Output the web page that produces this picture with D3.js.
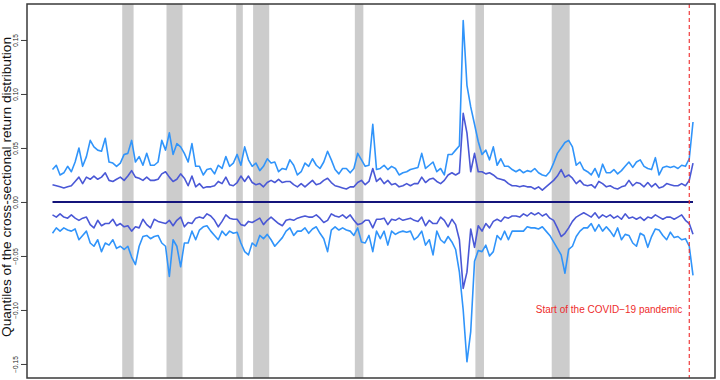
<!DOCTYPE html>
<html><head><meta charset="utf-8">
<script src="https://cdn.jsdelivr.net/npm/d3@7"></script>
<style>body{margin:0;background:#fff} svg{display:block}</style>
</head><body><svg id="c" width="720" height="380"></svg>
<script>
// ---- data (monthly quantiles, sampled every 4 months) ----
const startMonth = "1963-10";
const stepMonths = 4;
const upperOuter = [
0.030,0.034,0.025,0.027,0.033,0.028,0.037,0.050,0.033,0.042,0.057,0.051,0.048,0.047,0.059,0.037,0.036,0.033,0.036,0.044,0.045,0.057,0.037,0.042,0.034,0.045,0.034,0.034,0.037,
0.057,0.048,0.064,0.044,0.054,0.051,0.045,0.037,0.054,0.033,0.033,0.025,0.030,0.031,0.026,0.034,0.031,0.042,0.033,0.036,0.044,0.034,0.051,0.039,0.033,0.036,0.029,0.033,
0.040,0.036,0.037,0.028,0.031,0.030,0.039,0.034,0.025,0.028,0.036,0.033,0.040,0.034,0.031,0.037,0.047,0.039,0.030,0.026,0.031,0.031,0.027,0.031,0.045,0.039,0.033,0.034,0.072,
0.030,0.031,0.034,0.030,0.033,0.031,0.025,0.027,0.028,0.030,0.031,0.032,0.045,0.031,0.034,0.037,0.028,0.031,0.025,0.044,0.044,0.048,0.052,0.168,0.108,0.088,0.072,0.056,0.044,
0.048,0.039,0.051,0.034,0.040,0.033,0.033,0.030,0.028,0.030,0.027,0.029,0.028,0.031,0.027,0.025,0.024,0.028,0.036,0.045,0.050,0.055,0.057,0.051,0.034,0.037,0.030,0.028,
0.025,0.031,0.023,0.035,0.027,0.027,0.030,0.026,0.029,0.033,0.037,0.032,0.037,0.039,0.033,0.031,0.030,0.041,0.025,0.032,0.033,0.032,0.033,0.031,0.034,0.033,0.040,0.074];
const upperInner = [
0.016,0.015,0.014,0.013,0.014,0.015,0.019,0.023,0.017,0.023,0.021,0.024,0.021,0.023,0.027,0.020,0.019,0.021,0.023,0.020,0.024,0.029,0.023,0.022,0.020,0.023,0.020,0.020,0.021,
0.026,0.028,0.023,0.019,0.021,0.026,0.022,0.015,0.024,0.014,0.017,0.013,0.014,0.014,0.015,0.019,0.017,0.023,0.016,0.015,0.018,0.024,0.019,0.024,0.018,0.016,0.017,0.014,
0.018,0.020,0.018,0.021,0.018,0.019,0.019,0.016,0.014,0.017,0.014,0.017,0.020,0.016,0.017,0.020,0.022,0.018,0.015,0.014,0.013,0.012,0.014,0.014,0.018,0.020,0.016,0.019,0.031,
0.019,0.022,0.017,0.020,0.016,0.017,0.014,0.015,0.017,0.015,0.017,0.017,0.023,0.018,0.021,0.022,0.019,0.017,0.020,0.025,0.027,0.025,0.027,0.082,0.064,0.028,0.045,0.028,0.028,
0.026,0.027,0.025,0.022,0.021,0.020,0.017,0.015,0.015,0.014,0.015,0.014,0.014,0.012,0.014,0.011,0.014,0.017,0.020,0.024,0.030,0.023,0.025,0.022,0.017,0.020,0.016,0.015,
0.016,0.013,0.019,0.017,0.014,0.015,0.013,0.012,0.014,0.015,0.020,0.015,0.018,0.017,0.014,0.018,0.014,0.017,0.013,0.014,0.017,0.016,0.015,0.015,0.017,0.015,0.020,0.036];
const lowerInner = [
-0.012,-0.014,-0.011,-0.014,-0.015,-0.012,-0.015,-0.017,-0.015,-0.014,-0.021,-0.024,-0.017,-0.022,-0.020,-0.020,-0.016,-0.022,-0.020,-0.023,-0.022,-0.027,-0.023,-0.024,-0.016,-0.021,-0.024,-0.016,-0.018,
-0.019,-0.020,-0.017,-0.022,-0.017,-0.014,-0.023,-0.019,-0.020,-0.015,-0.014,-0.015,-0.011,-0.013,-0.017,-0.023,-0.018,-0.012,-0.015,-0.016,-0.016,-0.021,-0.022,-0.018,-0.019,-0.017,-0.015,-0.021,
-0.017,-0.014,-0.017,-0.020,-0.022,-0.017,-0.016,-0.017,-0.015,-0.014,-0.013,-0.014,-0.014,-0.012,-0.015,-0.019,-0.017,-0.011,-0.013,-0.014,-0.012,-0.015,-0.012,-0.017,-0.021,-0.020,-0.017,-0.017,-0.024,
-0.016,-0.016,-0.015,-0.021,-0.016,-0.017,-0.015,-0.017,-0.016,-0.015,-0.017,-0.018,-0.014,-0.022,-0.017,-0.020,-0.020,-0.014,-0.017,-0.023,-0.016,-0.021,-0.035,-0.080,-0.065,-0.025,-0.042,-0.022,-0.027,
-0.020,-0.024,-0.018,-0.016,-0.018,-0.014,-0.015,-0.013,-0.013,-0.014,-0.011,-0.013,-0.010,-0.012,-0.010,-0.013,-0.011,-0.015,-0.017,-0.024,-0.032,-0.029,-0.024,-0.018,-0.014,-0.012,-0.010,-0.012,
-0.014,-0.010,-0.015,-0.012,-0.014,-0.012,-0.015,-0.013,-0.016,-0.011,-0.015,-0.014,-0.016,-0.014,-0.017,-0.014,-0.015,-0.012,-0.014,-0.016,-0.014,-0.014,-0.016,-0.014,-0.012,-0.017,-0.020,-0.030];
const lowerOuter = [
-0.029,-0.024,-0.027,-0.024,-0.026,-0.027,-0.025,-0.035,-0.031,-0.027,-0.038,-0.041,-0.035,-0.046,-0.038,-0.040,-0.035,-0.043,-0.041,-0.044,-0.041,-0.051,-0.058,-0.041,-0.032,-0.031,-0.034,-0.032,-0.031,
-0.038,-0.041,-0.069,-0.035,-0.041,-0.060,-0.038,-0.038,-0.027,-0.035,-0.026,-0.023,-0.022,-0.027,-0.031,-0.035,-0.027,-0.031,-0.027,-0.029,-0.028,-0.038,-0.046,-0.049,-0.038,-0.041,-0.031,-0.034,
-0.030,-0.035,-0.041,-0.037,-0.033,-0.027,-0.024,-0.031,-0.027,-0.027,-0.024,-0.029,-0.025,-0.023,-0.029,-0.034,-0.046,-0.026,-0.023,-0.026,-0.024,-0.026,-0.027,-0.031,-0.024,-0.037,-0.038,-0.031,-0.046,
-0.027,-0.034,-0.027,-0.040,-0.027,-0.030,-0.028,-0.027,-0.028,-0.027,-0.035,-0.032,-0.027,-0.040,-0.035,-0.049,-0.027,-0.035,-0.038,-0.032,-0.037,-0.044,-0.065,-0.100,-0.148,-0.120,-0.055,-0.045,-0.046,
-0.040,-0.050,-0.046,-0.031,-0.035,-0.027,-0.035,-0.027,-0.027,-0.027,-0.027,-0.023,-0.024,-0.024,-0.025,-0.023,-0.027,-0.031,-0.037,-0.043,-0.049,-0.066,-0.044,-0.041,-0.032,-0.027,-0.024,-0.024,
-0.020,-0.027,-0.021,-0.027,-0.023,-0.027,-0.032,-0.024,-0.035,-0.030,-0.031,-0.038,-0.041,-0.029,-0.031,-0.042,-0.032,-0.025,-0.026,-0.031,-0.035,-0.028,-0.033,-0.032,-0.035,-0.034,-0.041,-0.068];
const recessions = [["1969-12","1970-11"],["1973-11","1975-03"],["1980-01","1980-07"],["1981-07","1982-11"],["1990-07","1991-03"],["2001-03","2001-11"],["2007-12","2009-06"]];
const covidStart = "2020-02";
const yTicks = [-0.15,-0.10,-0.05,0,0.05,0.10,0.15];
const yTickLabels = ["\u22120.15","\u22120.10","\u22120.05","0.00","0.05","0.10","0.15"];
const yTitle = "Quantiles of the cross-sectional return distribution";
const covidLabel = "Start of the COVID\u221219 pandemic";

// ---- drawing ----
const FONT = "'Liberation Sans', Arial, Helvetica, sans-serif";
const parse = d3.timeParse("%Y-%m");
const dates = upperOuter.map((_, i) => d3.timeMonth.offset(parse(startMonth), i * stepMonths));
const box = {left: 27, right: 715, top: 4, bottom: 378};
const x = d3.scaleTime().domain([dates[0], dates[dates.length - 1]]).range([52.5, 693]);
const y = d3.scaleLinear().domain([-0.163, 0.1833]).range([box.bottom, box.top]);

const svg = d3.select("#c");
svg.append("rect").attr("width", 720).attr("height", 380).attr("fill", "#fff");

// recession bands
svg.append("g").selectAll("rect").data(recessions).join("rect")
  .attr("x", d => x(parse(d[0])))
  .attr("width", d => x(parse(d[1])) - x(parse(d[0])) + 1)
  .attr("y", box.top).attr("height", box.bottom - box.top)
  .attr("fill", "#cccccc");

const line = d3.line().x((d, i) => x(dates[i])).y(d => y(d));
const series = [
  {v: upperOuter, c: "#3094fa"},
  {v: lowerOuter, c: "#3094fa"},
  {v: upperInner, c: "#4a58d6"},
  {v: lowerInner, c: "#4a58d6"}
];
svg.append("g").selectAll("path").data(series).join("path")
  .attr("d", d => line(d.v)).attr("fill", "none")
  .attr("stroke", d => d.c).attr("stroke-width", 1.6).attr("stroke-linejoin", "round");

// zero line
svg.append("line")
  .attr("x1", x(dates[0])).attr("x2", x(dates[dates.length - 1]))
  .attr("y1", y(0)).attr("y2", y(0))
  .attr("stroke", "#14147a").attr("stroke-width", 2);

// covid line
const xc = x(parse(covidStart));
svg.append("line").attr("x1", xc).attr("x2", xc).attr("y1", box.top).attr("y2", box.bottom)
  .attr("stroke", "#ee2b2b").attr("stroke-width", 1.1).attr("stroke-dasharray", "4,3");
svg.append("text").attr("x", xc - 7).attr("y", 313)
  .attr("text-anchor", "end").attr("font-family", FONT).attr("font-size", 10)
  .attr("fill", "#ee2b2b").text(covidLabel);

// box
svg.append("rect").attr("x", box.left).attr("y", box.top)
  .attr("width", box.right - box.left).attr("height", box.bottom - box.top)
  .attr("fill", "none").attr("stroke", "#3a3a3a").attr("stroke-width", 1.5);

// y axis
const ax = svg.append("g").attr("transform", `translate(${box.left},0)`)
  .call(d3.axisLeft(y).tickValues(yTicks).tickFormat((d, i) => yTickLabels[i]).tickSize(6));
ax.select(".domain").remove();
ax.selectAll(".tick line").attr("stroke", "#3a3a3a");
ax.selectAll(".tick text")
  .attr("x", 0).attr("dy", 0)
  .attr("transform", "translate(-9.5,0) rotate(-90)")
  .attr("text-anchor", "middle")
  .attr("font-family", FONT).attr("font-size", 6.5).attr("fill", "#222");

// y title
svg.append("text").attr("transform", "translate(11,187) rotate(-90)")
  .attr("text-anchor", "middle").attr("font-family", FONT).attr("font-size", 12.5)
  .attr("textLength", 300).attr("lengthAdjust", "spacingAndGlyphs")
  .attr("fill", "#111").text(yTitle);
</script></body></html>
